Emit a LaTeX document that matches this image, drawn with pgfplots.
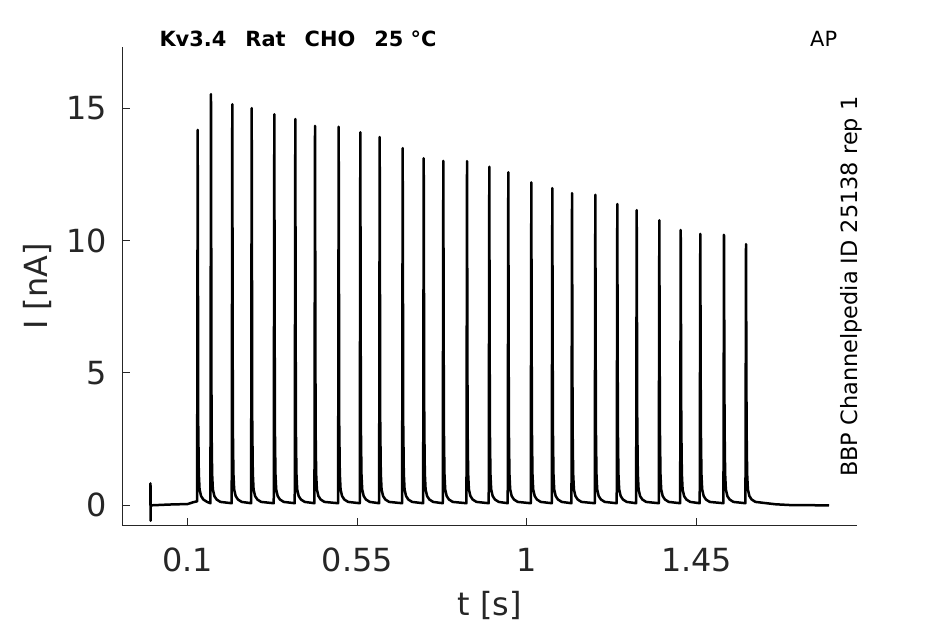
\documentclass[border=0pt]{standalone}
\usepackage{pgfplots}
\pgfplotsset{compat=1.18}
\usepackage{fontspec}
\setmainfont{DejaVu Sans}
\definecolor{axgray}{rgb}{0.15,0.15,0.15}
\begin{document}
\begin{tikzpicture}
\begin{axis}[
  scale only axis, width=734.4bp, height=478.7bp,
  xmin=-0.0735, xmax=1.875, ymin=-0.78, ymax=17.30,
  axis lines=left, axis line style={-, axgray, line width=1bp},
  every tick/.style={axgray, line width=1bp},
  major tick length=7.5bp, tick align=inside,
  xtick={0.1,0.55,1,1.45}, xticklabels={0.1,0.55,1,1.45},
  ytick={0,5,10,15}, yticklabels={0,5,10,15},
  /pgf/number format/assume math mode=true,
  tick label style={font=\fontsize{32}{38}\selectfont, text=axgray},
  xticklabel style={inner ysep=0pt, yshift=-22bp, anchor=north},
  yticklabel style={inner xsep=0pt, xshift=-15bp, anchor=east},
  xlabel={t [s]}, ylabel={I [nA]},
  label style={font=\fontsize{32}{38}\selectfont, text=axgray},
  xlabel style={at={(axis description cs:0.5,-0.188)}, anchor=base, inner sep=0pt},
  ylabel style={at={(axis description cs:-0.1012,0.5)}, anchor=base, inner sep=0pt},
  clip=false,
]
\addplot[black, line width=2.5bp, line join=round] table {
x y
0.0013 0.0
0.0013 0.83
0.0016 -0.58
0.0019 0.0
0.05 0.03
0.10 0.05
0.115 0.12
0.1250 0.15
0.1265 14.18
0.1280 3.0
0.1295 1.2
0.1315 0.6
0.1355 0.35
0.1415 0.22
0.1515 0.13
0.1603 0.08
0.1618 15.53
0.1633 3.0
0.1648 1.2
0.1668 0.6
0.1708 0.35
0.1768 0.22
0.1868 0.13
0.2168 0.08
0.2183 15.15
0.2198 3.0
0.2213 1.2
0.2233 0.6
0.2273 0.35
0.2333 0.22
0.2433 0.13
0.2683 0.08
0.2698 15.00
0.2713 3.0
0.2728 1.2
0.2748 0.6
0.2788 0.35
0.2848 0.22
0.2948 0.13
0.3283 0.08
0.3298 14.77
0.3313 3.0
0.3328 1.2
0.3348 0.6
0.3388 0.35
0.3448 0.22
0.3548 0.13
0.3840 0.08
0.3855 14.59
0.3870 3.0
0.3885 1.2
0.3905 0.6
0.3945 0.35
0.4005 0.22
0.4105 0.13
0.4363 0.08
0.4378 14.33
0.4393 3.0
0.4408 1.2
0.4428 0.6
0.4468 0.35
0.4528 0.22
0.4628 0.13
0.4991 0.08
0.5006 14.30
0.5021 3.0
0.5036 1.2
0.5056 0.6
0.5096 0.35
0.5156 0.22
0.5256 0.13
0.5565 0.08
0.5580 14.09
0.5595 3.0
0.5610 1.2
0.5630 0.6
0.5670 0.35
0.5730 0.22
0.5830 0.13
0.6079 0.08
0.6094 13.91
0.6109 3.0
0.6124 1.2
0.6144 0.6
0.6184 0.35
0.6244 0.22
0.6344 0.13
0.6689 0.08
0.6704 13.49
0.6719 3.0
0.6734 1.2
0.6754 0.6
0.6794 0.35
0.6854 0.22
0.6954 0.13
0.7247 0.08
0.7262 13.11
0.7277 3.0
0.7292 1.2
0.7312 0.6
0.7352 0.35
0.7412 0.22
0.7512 0.13
0.7767 0.08
0.7782 13.01
0.7797 3.0
0.7812 1.2
0.7832 0.6
0.7872 0.35
0.7932 0.22
0.8032 0.13
0.8396 0.08
0.8411 13.00
0.8426 3.0
0.8441 1.2
0.8461 0.6
0.8501 0.35
0.8561 0.22
0.8661 0.13
0.8987 0.08
0.9002 12.79
0.9017 3.0
0.9032 1.2
0.9052 0.6
0.9092 0.35
0.9152 0.22
0.9252 0.13
0.9491 0.08
0.9506 12.58
0.9521 3.0
0.9536 1.2
0.9556 0.6
0.9596 0.35
0.9656 0.22
0.9756 0.13
1.0102 0.08
1.0117 12.20
1.0132 3.0
1.0147 1.2
1.0167 0.6
1.0207 0.35
1.0267 0.22
1.0367 0.13
1.0659 0.08
1.0674 11.98
1.0689 3.0
1.0704 1.2
1.0724 0.6
1.0764 0.35
1.0824 0.22
1.0924 0.13
1.1182 0.08
1.1197 11.79
1.1212 3.0
1.1227 1.2
1.1247 0.6
1.1287 0.35
1.1347 0.22
1.1447 0.13
1.1800 0.08
1.1815 11.73
1.1830 3.0
1.1845 1.2
1.1865 0.6
1.1905 0.35
1.1965 0.22
1.2065 0.13
1.2383 0.08
1.2398 11.38
1.2413 3.0
1.2428 1.2
1.2448 0.6
1.2488 0.35
1.2548 0.22
1.2648 0.13
1.2898 0.08
1.2913 11.15
1.2928 3.0
1.2943 1.2
1.2963 0.6
1.3003 0.35
1.3063 0.22
1.3163 0.13
1.3498 0.08
1.3513 10.77
1.3528 3.0
1.3543 1.2
1.3563 0.6
1.3603 0.35
1.3663 0.22
1.3763 0.13
1.4066 0.08
1.4081 10.40
1.4096 3.0
1.4111 1.2
1.4131 0.6
1.4171 0.35
1.4231 0.22
1.4331 0.13
1.4585 0.08
1.4600 10.25
1.4615 3.0
1.4630 1.2
1.4650 0.6
1.4690 0.35
1.4750 0.22
1.4850 0.13
1.5214 0.08
1.5229 10.22
1.5244 3.0
1.5259 1.2
1.5279 0.6
1.5319 0.35
1.5379 0.22
1.5479 0.13
1.5798 0.08
1.5813 9.87
1.5828 3.0
1.5843 1.2
1.5863 0.6
1.5903 0.35
1.5963 0.22
1.6063 0.13
1.63 0.09
1.66 0.04
1.70 0.01
1.8015 0.0
};
\node[anchor=base west, inner sep=0pt, font=\fontsize{21}{25}\selectfont\bfseries, text=black]
  at (axis description cs:0.0504,1.0013) {Kv3.4\hspace{19bp}Rat\hspace{19bp}CHO\hspace{19bp}25 °C};
\node[anchor=base east, inner sep=0pt, font=\fontsize{21}{25}\selectfont, text=black]
  at (axis description cs:0.9736,1.0013) {AP};
\node[anchor=base, rotate=90, inner sep=0pt, font=\fontsize{22.5}{27}\selectfont, text=black]
  at (axis description cs:1.0008,0.5) {BBP Channelpedia ID 25138 rep 1};
\coordinate (BL) at (axis description cs:-0.16653,-0.20472);
\coordinate (TR) at (axis description cs:1.12024,1.09881);
\end{axis}
\path (BL) rectangle (TR);
\end{tikzpicture}
\end{document}
